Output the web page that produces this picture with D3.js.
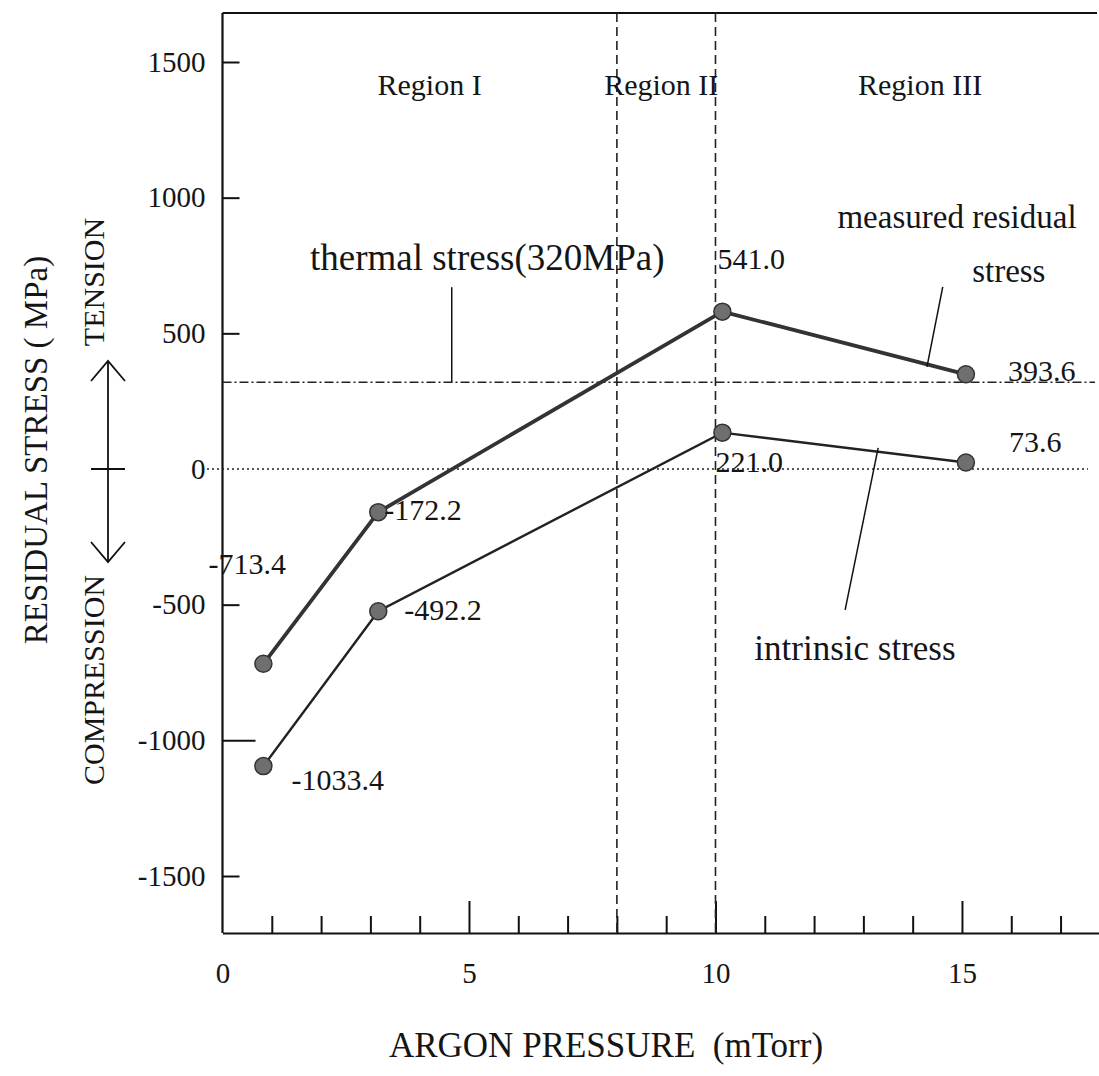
<!DOCTYPE html>
<html><head><meta charset="utf-8">
<script src="https://cdn.jsdelivr.net/npm/d3@7"></script>
<style>
body{margin:0;background:#fff}
svg{display:block}
text{font-family:"Liberation Serif","Times New Roman",serif;fill:#151515}
</style>
</head><body>
<svg id="c" width="1099" height="1076"></svg>
<script>
// ---- data ----
const pressure = [0.83, 3.16, 10.14, 15.08];
const measured = [-718, -159, 580, 349];
const intrinsic = [-1095, -524, 134, 24];
const measuredLabels = ["-713.4", "-172.2", "541.0", "393.6"];
const intrinsicLabels = ["-1033.4", "-492.2", "221.0", "73.6"];
const xTickValues = d3.range(0, 18);
const xTickLabels = [0, 5, 10, 15];
const yTickLabels = [-1500, -1000, -500, 0, 500, 1000, 1500];
const thermalStress = 320;
const regionBounds = [8, 10];
const regionNames = ["Region I", "Region II", "Region III"];
const regionCenters = [4.2, 8.9, 14.15];

// ---- layout ----
const L = 222.5, R = 1100, T = 13, B = 933;
const svg = d3.select("#c");
const x = d3.scaleLinear().domain([0, 17.8]).range([L, R]);
const y = d3.scaleLinear().domain([-1500, 1500]).range([876, 62]);
const FS = 29;

// frame
svg.append("line").attr("x1", L).attr("x2", L).attr("y1", T).attr("y2", B)
  .attr("stroke", "#111").attr("stroke-width", 2.2);
svg.append("line").attr("x1", L).attr("x2", 1097).attr("y1", T).attr("y2", T)
  .attr("stroke", "#111").attr("stroke-width", 2.2);

// x axis
const xAxis = d3.axisBottom(x).tickValues(xTickValues)
  .tickFormat(d => xTickLabels.includes(d) ? String(d) : "")
  .tickSize(-17).tickSizeOuter(0).tickPadding(29);
const gx = svg.append("g").attr("transform", `translate(0,${B})`).call(xAxis);
gx.select(".domain").attr("stroke", "#111").attr("stroke-width", 2.2);
gx.selectAll(".tick line").attr("stroke", "#111").attr("stroke-width", 2)
  .attr("y2", d => d === 0 ? 0 : (d % 5 === 0 ? -32 : -17));
gx.selectAll(".tick text").attr("font-size", FS).attr("font-family", "Liberation Serif").attr("fill", "#151515");

// y axis
const yAxis = d3.axisLeft(y).tickValues(yTickLabels).tickFormat(d => String(d))
  .tickSize(-17).tickPadding(17);
const gy = svg.append("g").attr("transform", `translate(${L},0)`).call(yAxis);
gy.select(".domain").remove();
gy.selectAll(".tick line").attr("stroke", "#111").attr("stroke-width", 2)
  .attr("x2", d => d === 0 ? 0 : (d === -1000 ? 33 : 17));
gy.selectAll(".tick text").attr("font-size", FS).attr("font-family", "Liberation Serif").attr("fill", "#151515");

// reference lines
svg.append("line").attr("x1", 207).attr("x2", 1088).attr("y1", y(0)).attr("y2", y(0))
  .attr("stroke", "#222").attr("stroke-width", 1.6).attr("stroke-dasharray", "2,3");
svg.append("line").attr("x1", L).attr("x2", 1095).attr("y1", y(thermalStress)).attr("y2", y(thermalStress))
  .attr("stroke", "#222").attr("stroke-width", 1.5).attr("stroke-dasharray", "9,3,2,3");
regionBounds.forEach(b => {
  svg.append("line").attr("x1", x(b)).attr("x2", x(b)).attr("y1", T).attr("y2", B)
    .attr("stroke", "#222").attr("stroke-width", 1.6).attr("stroke-dasharray", "9,5");
});

// region names
regionNames.forEach((n, i) => {
  svg.append("text").attr("x", x(regionCenters[i])).attr("y", y(1379))
    .attr("text-anchor", "middle").attr("font-size", 30).text(n);
});

// series lines
const line = d3.line().x((d, i) => x(pressure[i])).y(d => y(d));
svg.append("path").datum(measured).attr("d", line).attr("fill", "none")
  .attr("stroke", "#333").attr("stroke-width", 3.8).attr("stroke-linejoin", "round");
svg.append("path").datum(intrinsic).attr("d", line).attr("fill", "none")
  .attr("stroke", "#222").attr("stroke-width", 2.4);

// points
[measured, intrinsic].forEach(s => {
  svg.append("g").selectAll("circle").data(s).join("circle")
    .attr("cx", (d, i) => x(pressure[i])).attr("cy", d => y(d)).attr("r", 8.5)
    .attr("fill", "#6f6f6f").attr("stroke", "#333").attr("stroke-width", 1.5);
});

// value labels (offsets in px from point)
const mOff = [[-55, -90], [6, 8], [-5, -43], [42, 7]];
const iOff = [[28, 24], [26, 9], [-7, 39], [43, -10]];
measuredLabels.forEach((t, i) => {
  svg.append("text").attr("x", x(pressure[i]) + mOff[i][0]).attr("y", y(measured[i]) + mOff[i][1])
    .attr("font-size", 30).text(t);
});
intrinsicLabels.forEach((t, i) => {
  svg.append("text").attr("x", x(pressure[i]) + iOff[i][0]).attr("y", y(intrinsic[i]) + iOff[i][1])
    .attr("font-size", 30).text(t);
});

// annotations
svg.append("text").attr("x", x(5.37)).attr("y", y(734)).attr("text-anchor", "middle")
  .attr("font-size", 37).text("thermal stress(320MPa)");
svg.append("line").attr("x1", x(4.65)).attr("x2", x(4.65)).attr("y1", y(thermalStress)).attr("y2", y(670))
  .attr("stroke", "#111").attr("stroke-width", 1.5);

svg.append("text").attr("x", x(14.9)).attr("y", y(889)).attr("text-anchor", "middle")
  .attr("font-size", 33).text("measured residual");
svg.append("text").attr("x", x(15.95)).attr("y", y(690)).attr("text-anchor", "middle")
  .attr("font-size", 33).text("stress");
svg.append("line").attr("x1", x(14.61)).attr("y1", y(671)).attr("x2", x(14.29)).attr("y2", y(376))
  .attr("stroke", "#111").attr("stroke-width", 1.5);

svg.append("text").attr("x", x(12.83)).attr("y", y(-703)).attr("text-anchor", "middle")
  .attr("font-size", 35).text("intrinsic stress");
svg.append("line").attr("x1", x(13.3)).attr("y1", y(78)).attr("x2", x(12.63)).attr("y2", y(-519))
  .attr("stroke", "#111").attr("stroke-width", 1.5);

// axis titles
svg.append("text").attr("x", 606).attr("y", 1057).attr("text-anchor", "middle")
  .attr("font-size", 35).style("white-space", "pre").text("ARGON PRESSURE  (mTorr)");
svg.append("text").attr("transform", "translate(47,450) rotate(-90)").attr("text-anchor", "middle")
  .attr("font-size", 33).style("white-space", "pre").text("RESIDUAL STRESS ( MPa)");
svg.append("text").attr("transform", "translate(104,282) rotate(-90)").attr("text-anchor", "middle")
  .attr("font-size", 30).text("TENSION");
svg.append("text").attr("transform", "translate(104,680) rotate(-90)").attr("text-anchor", "middle")
  .attr("font-size", 30).text("COMPRESSION");

// tension/compression double arrow
const ax = 108, aTop = 361, aBot = 562, aMid = y(0);
const arrow = svg.append("g").attr("stroke", "#111").attr("stroke-width", 1.8).attr("fill", "none");
arrow.append("line").attr("x1", ax).attr("x2", ax).attr("y1", aTop).attr("y2", aBot);
arrow.append("line").attr("x1", ax - 17).attr("x2", ax + 17).attr("y1", aMid).attr("y2", aMid);
arrow.append("path").attr("d", `M${ax - 17},${aTop + 20} L${ax},${aTop} L${ax + 17},${aTop + 20}`);
arrow.append("path").attr("d", `M${ax - 17},${aBot - 20} L${ax},${aBot} L${ax + 17},${aBot - 20}`);
</script>
</body></html>
